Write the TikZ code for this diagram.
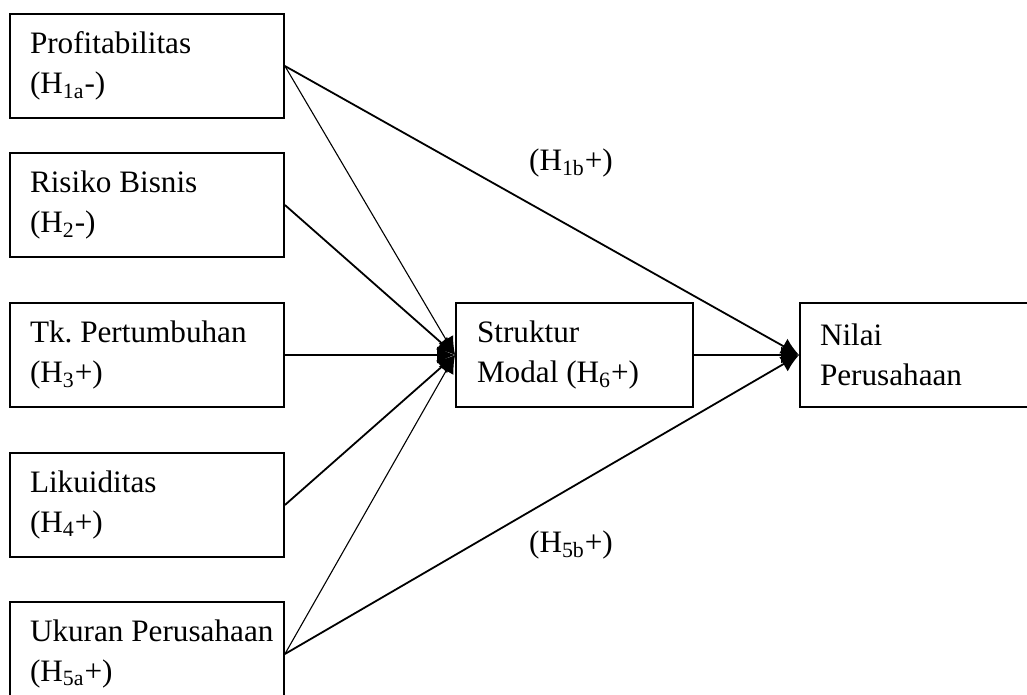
\documentclass[tikz,border=0pt]{standalone}
\usepackage{fontspec}
\setmainfont{Liberation Serif}
\usepackage{tikz}
\usetikzlibrary{arrows.meta, positioning}

\begin{document}
\begin{tikzpicture}[
    x=0.5pt, y=-0.5pt,
    var/.style={draw, line width=0.9pt, minimum width=#1, minimum height=52pt, inner xsep=10pt, text width=#1-20pt, align=flush left, font=\fontsize{15.6}{20}\selectfont},
    lbl/.style={font=\fontsize{15.6}{20}\selectfont, inner sep=0pt},
    arrow/.style={-{Latex[length=9pt, width=8.5pt]}, line width=0.9pt},
    thinarrow/.style={-{Latex[length=9pt, width=8.5pt]}, line width=0.55pt}
]
    \useasboundingbox (0,0) rectangle (1027,695);
    \clip (0,0) rectangle (1027,695);

    % Independent variables
    \node[var=137pt] (prof) at (147,66) {Profitabilitas\\(H\textsubscript{1a}-)};
    \node[var=137pt] (risk) at (147,205) {Risiko Bisnis\\(H\textsubscript{2}-)};
    \node[var=137pt] (grow) at (147,355) {Tk.\ Pertumbuhan\\(H\textsubscript{3}+)};
    \node[var=137pt] (liq) at (147,505) {Likuiditas\\(H\textsubscript{4}+)};
    \node[var=137pt] (size) at (147,654) {\mbox{Ukuran Perusahaan}\\(H\textsubscript{5a}+)};

    % Intervening and dependent variables
    \node[var=117.5pt, inner xsep=10.5pt] (cap) at (574.5,355) {Struktur\\Modal (H\textsubscript{6}+)};
    \node[var=120pt] (firm) at (920,355) {Nilai\\Perusahaan};

    % Connections
    \draw[thinarrow] (prof.east) -- (cap.west);
    \draw[arrow] (risk.east) -- (cap.west);
    \draw[arrow] (grow.east) -- (cap.west);
    \draw[arrow] (liq.east) -- (cap.west);
    \draw[thinarrow] (size.east) -- (cap.west);
    \draw[arrow] (prof.east) -- (firm.west);
    \draw[arrow] (cap.east) -- (firm.west);
    \draw[arrow] (size.east) -- (firm.west);

    % Direct effect labels
    \node[lbl] (h1b) at (571,163) {(H\textsubscript{1b}+)};
    \node[lbl] (h5b) at (571,545) {(H\textsubscript{5b}+)};
\end{tikzpicture}
\end{document}
